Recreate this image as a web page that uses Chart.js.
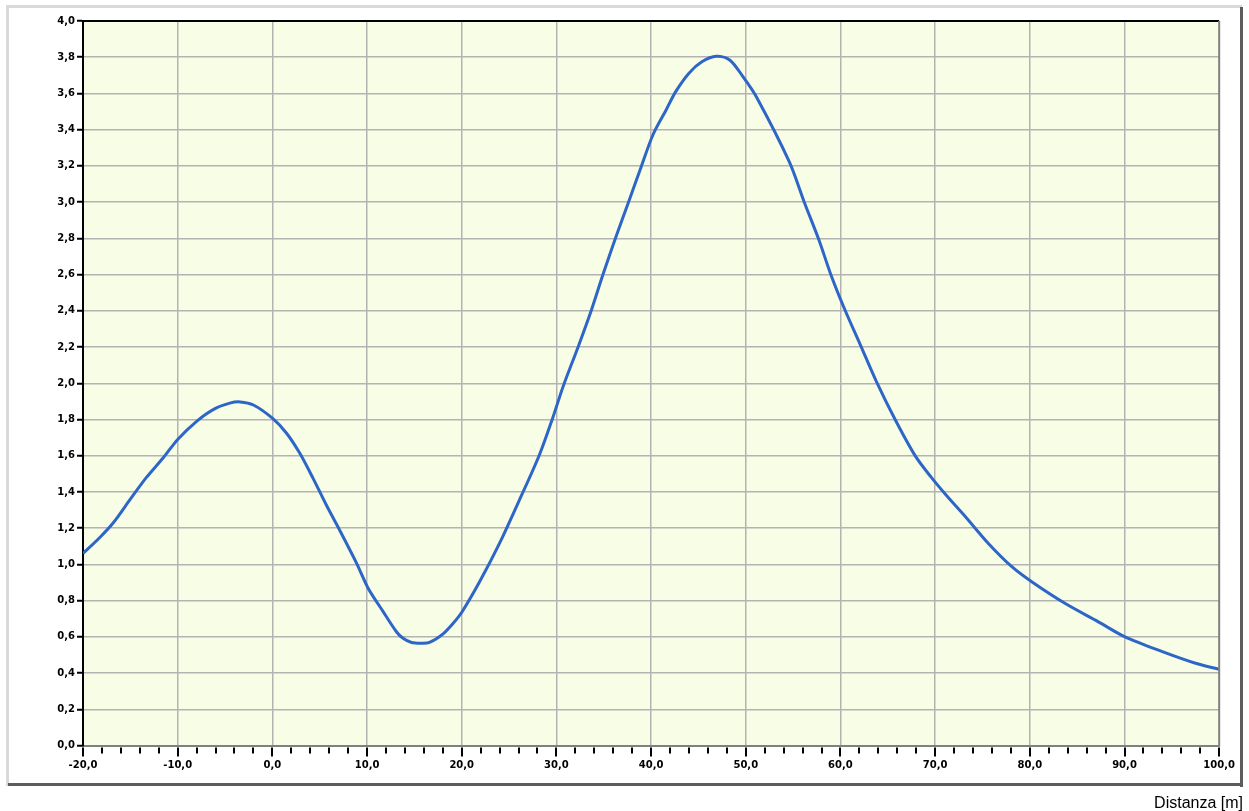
<!DOCTYPE html>
<html>
<head>
<meta charset="utf-8">
<script src="https://cdn.jsdelivr.net/npm/chart.js@4/dist/chart.umd.min.js"></script>
<style>
  html, body { margin: 0; padding: 0; background: #ffffff; }
  #wrap { width: 1249px; height: 811px; position: relative; }
</style>
</head>
<body>
<div id="wrap"><canvas id="c" width="1249" height="811"></canvas></div>
<script>
// Distance (m)
const distances = [-20, -18.2, -16.8, -15, -13.3, -11.5, -10, -8, -6.2, -4.5, -3.4, -2, 0, 1.5, 2.9, 4.3, 5.7, 7.1, 8.9, 10.1, 11.7, 13.1, 13.8, 14.7, 15.7, 16.6, 18, 19.1, 20.06, 21.9, 24, 26.1, 28.2, 29.6, 30.7, 32.3, 33.7, 34.9, 36.3, 37.7, 38.9, 40.2, 41.6, 42.6, 44, 45.4, 46.9, 48.3, 49.7, 51.1, 54.6, 56.2, 57.7, 59.0, 60.4, 62.1, 63.8, 65.8, 67.9, 69.6, 71.2, 73.2, 75.6, 78.1, 80.2, 83.7, 87.2, 90, 94, 97.5, 100];
// Profile values
const values = [1.06, 1.15, 1.23, 1.36, 1.48, 1.59, 1.69, 1.79, 1.856, 1.89, 1.897, 1.88, 1.807, 1.724, 1.613, 1.475, 1.328, 1.19, 1.006, 0.87, 0.739, 0.628, 0.592, 0.569, 0.565, 0.569, 0.615, 0.675, 0.74, 0.905, 1.117, 1.356, 1.604, 1.807, 1.981, 2.202, 2.405, 2.598, 2.81, 3.012, 3.187, 3.372, 3.51, 3.61, 3.712, 3.776, 3.805, 3.785, 3.693, 3.583, 3.222, 2.997, 2.795, 2.598, 2.414, 2.212, 2.009, 1.797, 1.599, 1.48, 1.38, 1.263, 1.117, 0.987, 0.904, 0.785, 0.684, 0.601, 0.518, 0.454, 0.421];
const xAxisTitle = 'Distanza [m]';
const xMin = -20, xMax = 100, xMajor = 10, xMinor = 2;
const yMin = 0, yMax = 4, yStep = 0.2;

const points = distances.map((d, i) => ({ x: d, y: values[i] }));
const fmt = v => (Math.round(v * 10) / 10).toFixed(1).replace('.', ',');
const isMajor = v => Math.abs(Math.round(v / xMajor) * xMajor - v) < 1e-6;

const decor = {
  id: 'decor',
  beforeDraw(chart) {
    const { ctx, chartArea: a } = chart;
    ctx.save();
    ctx.fillStyle = '#f8fde6';
    ctx.fillRect(a.left, a.top, a.right - a.left, a.bottom - a.top);
    ctx.restore();
  },
  afterDraw(chart) {
    const { ctx, chartArea: a } = chart;
    const xs = chart.scales.x;
    ctx.save();
    // frame
    ctx.fillStyle = '#d9d9d9';
    ctx.fillRect(6, 5, 1236, 3);
    ctx.fillRect(6, 5, 3, 781);
    ctx.fillStyle = '#5c5c5c';
    ctx.fillRect(1240, 7, 3, 780);
    ctx.fillRect(8, 783, 1235, 3);
    // top and right plot border
    ctx.fillStyle = '#000000';
    ctx.fillRect(a.left - 1, a.top - 1, a.right - a.left + 1, 2);
    ctx.fillStyle = '#808080';
    ctx.fillRect(a.right - 1, a.top, 2, a.bottom - a.top + 1);
    // x ticks
    ctx.fillStyle = '#000000';
    for (let v = xMin; v <= xMax + 1e-6; v += xMinor) {
      const px = Math.round(xs.getPixelForValue(v));
      const major = isMajor(v);
      ctx.fillRect(px - 1, a.bottom + 2, 2, major ? 9 : 6);
    }
    // axis title
    ctx.fillStyle = '#000000';
    ctx.font = '16px "Liberation Sans", Arial, sans-serif';
    ctx.textAlign = 'right';
    ctx.textBaseline = 'alphabetic';
    ctx.fillText(xAxisTitle, 1243, 808);
    ctx.restore();
  }
};

new Chart(document.getElementById('c'), {
  type: 'line',
  data: {
    datasets: [{
      data: points,
      borderColor: '#2e66c8',
      borderWidth: 3,
      pointRadius: 0,
      tension: 0.3,
      fill: false
    }]
  },
  options: {
    responsive: false,
    animation: false,
    events: [],
    layout: { padding: { left: 0, top: 21, right: 28, bottom: 0 } },
    plugins: { legend: { display: false }, tooltip: { enabled: false } },
    scales: {
      x: {
        type: 'linear',
        min: xMin, max: xMax,
        afterBuildTicks(scale) {
          const t = [];
          for (let v = xMin; v <= xMax + 1e-6; v += xMinor) t.push({ value: Math.round(v * 10) / 10 });
          scale.ticks = t;
        },
        afterFit(scale) { scale.height = 65.5; },
        ticks: {
          autoSkip: false, maxRotation: 0, minRotation: 0, padding: 14,
          color: '#000000',
          font: { family: '"DejaVu Sans", sans-serif', size: 10, weight: 'bold' },
          callback: v => isMajor(v) ? fmt(v) : ''
        },
        grid: {
          drawTicks: false,
          color: c => (c.tick && isMajor(c.tick.value) && c.tick.value !== xMin && c.tick.value !== xMax) ? '#b3b3b3' : 'rgba(0,0,0,0)',
          lineWidth: 1.5
        },
        border: { display: true, color: '#808080', width: 2 }
      },
      y: {
        type: 'linear',
        min: yMin, max: yMax,
        afterBuildTicks(scale) {
          const t = [];
          for (let i = 0; i <= Math.round((yMax - yMin) / yStep); i++) t.push({ value: Math.round((yMin + i * yStep) * 10) / 10 });
          scale.ticks = t;
        },
        afterFit(scale) { scale.width = 83; },
        ticks: {
          padding: 2,
          color: '#000000',
          font: { family: '"DejaVu Sans", sans-serif', size: 10, weight: 'bold' },
          callback: v => fmt(v)
        },
        grid: {
          color: c => (c.tick && (c.tick.value === yMin || c.tick.value === yMax)) ? 'rgba(0,0,0,0)' : '#b3b3b3',
          lineWidth: 1.5,
          tickColor: '#000000',
          tickLength: 6,
          tickWidth: 2
        },
        border: { display: true, color: '#000000', width: 2 }
      }
    }
  },
  plugins: [decor]
});
</script>
</body>
</html>
